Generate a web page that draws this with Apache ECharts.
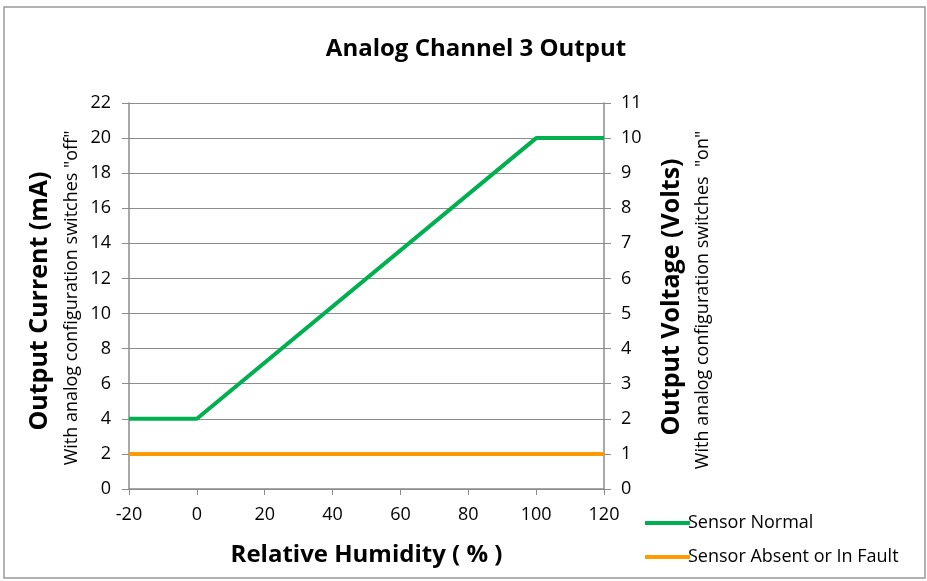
<!DOCTYPE html>
<html><head><meta charset="utf-8">
<script src="https://cdn.jsdelivr.net/npm/echarts@6/dist/echarts.min.js"></script>
<style>html,body{margin:0;padding:0;background:#fff}#c{width:927px;height:581px}</style>
</head><body><div id="c"></div>
<script>
const titleText = 'Analog Channel 3 Output';
const xName = 'Relative Humidity ( % )';
const seriesNames = ['Sensor Normal', 'Sensor Absent or In Fault'];
const normalData = [[-20, 4], [0, 4], [100, 20], [120, 20]];
const faultData = [[-20, 2], [120, 2]];
const xTicks = { min: -20, max: 120, interval: 20 };
const leftTicks = { min: 0, max: 22, interval: 2 };
const rightTicks = { min: 0, max: 11, interval: 1 };
const leftTitle = 'Output Current (mA)';
const leftSub = 'With analog configuration switches "off"';
const rightTitle = 'Output Voltage (Volts)';
const rightSub = 'With analog configuration switches  "on"';

const FONT = '"Open Sans", sans-serif';
const axisGray = '#8c8c8c';
const chart = echarts.init(document.getElementById('c'));
chart.setOption({
  animation: false,
  textStyle: { fontFamily: FONT },
  title: { text: titleText, left: 471, top: 32, textAlign: 'center',
    textStyle: { fontFamily: FONT, fontSize: 24, fontWeight: 'bold', color: '#000' } },
  grid: { left: 129, right: 323, top: 103, bottom: 92 },
  legend: {
    orient: 'vertical', left: 645, top: 514, itemGap: 16, itemWidth: 45, itemHeight: 24,
    padding: 0, width: 280, height: 66,
    icon: 'path://M0,10 L45,10 L45,14 L0,14 Z',
    textStyle: { fontFamily: FONT, fontSize: 18, color: '#000', padding: [0,0,0,-7] },
    data: seriesNames
  },
  xAxis: {
    type: 'value', min: xTicks.min, max: xTicks.max, interval: xTicks.interval,
    name: xName, nameLocation: 'middle', nameGap: 54,
    nameTextStyle: { fontFamily: FONT, fontSize: 24, fontWeight: 'bold', color: '#000' },
    axisLine: { show: true, onZero: false, lineStyle: { color: axisGray, width: 1.5 } },
    axisTick: { show: true, length: 6, inside: false, lineStyle: { color: axisGray } },
    axisLabel: { fontSize: 18, color: '#000', margin: 17 },
    splitLine: { show: false }
  },
  yAxis: [{
    type: 'value', position: 'left', min: leftTicks.min, max: leftTicks.max, interval: leftTicks.interval,
    axisLine: { show: true, onZero: false, lineStyle: { color: axisGray, width: 1.5 } },
    axisTick: { show: true, length: 7, lineStyle: { color: axisGray } },
    axisLabel: { fontSize: 18, color: '#000', margin: 18 },
    splitLine: { show: true, lineStyle: { color: '#8c8c8c', width: 1 } }
  }, {
    type: 'value', position: 'right', min: rightTicks.min, max: rightTicks.max, interval: rightTicks.interval,
    axisLine: { show: true, onZero: false, lineStyle: { color: axisGray, width: 1.5 } },
    axisTick: { show: true, length: 7, lineStyle: { color: axisGray } },
    axisLabel: { fontSize: 18, color: '#000', margin: 17 },
    splitLine: { show: false }
  }],
  series: [{
    name: seriesNames[0], type: 'line', data: normalData, symbol: 'none',
    lineStyle: { color: '#00b050', width: 4 }, itemStyle: { color: '#00b050' }, z: 3
  }, {
    name: seriesNames[1], type: 'line', data: faultData, symbol: 'none',
    lineStyle: { color: '#ff9a00', width: 4 }, itemStyle: { color: '#ff9a00' }, z: 2
  }],
  graphic: [
    { type: 'rect', shape: { x: 4, y: 7, width: 921, height: 571 }, style: { fill: 'none', stroke: '#999', lineWidth: 1.5 }, z: -10 },
    { type: 'text', x: 40, y: 301, rotation: Math.PI / 2, style: { text: leftTitle, font: 'bold 25px ' + FONT, fill: '#000', align: 'center', verticalAlign: 'middle' } },
    { type: 'text', x: 72, y: 298, rotation: Math.PI / 2, style: { text: leftSub, font: '18px ' + FONT, fill: '#000', align: 'center', verticalAlign: 'middle' } },
    { type: 'text', x: 672, y: 297, rotation: Math.PI / 2, style: { text: rightTitle, font: 'bold 25px ' + FONT, fill: '#000', align: 'center', verticalAlign: 'middle' } },
    { type: 'text', x: 703, y: 300, rotation: Math.PI / 2, style: { text: rightSub, font: '18px ' + FONT, fill: '#000', align: 'center', verticalAlign: 'middle' } }
  ]
});
</script></body></html>
